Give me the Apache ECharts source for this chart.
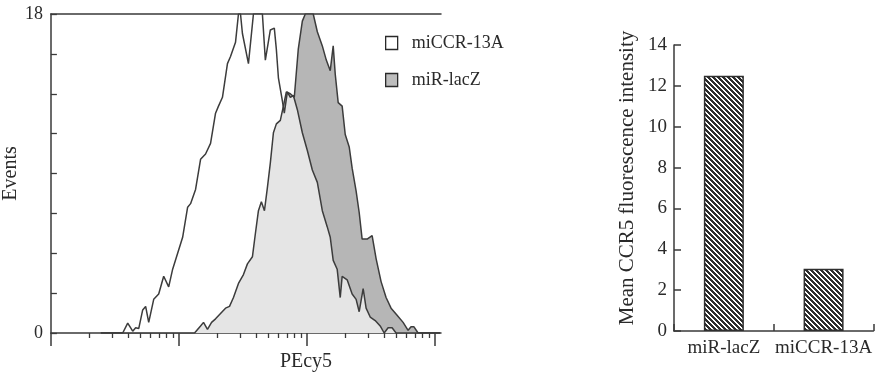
<!DOCTYPE html>
<html>
<head>
<meta charset="utf-8">
<script src="https://cdn.jsdelivr.net/npm/echarts@6/dist/echarts.min.js"></script>
<style>
html,body{margin:0;padding:0;background:#fff;}
#c{width:875px;height:372px;}
</style>
</head>
<body>
<div id="c"></div>
<script>
// ---- Data ----
// Flow histogram: x = log10(PEcy5 intensity), y = events
const miCCR_logPE = [0.39,0.45,0.561,0.600,0.639,0.662,0.686,0.717,0.740,0.764,0.803,0.842,0.881,0.920,0.951,0.990,1.029,1.068,1.091,1.130,1.169,1.208,1.247,1.286,1.309,1.340,1.379,1.403,1.442,1.465,1.481,1.496,1.543,1.582,1.621,1.652,1.675,1.714,1.745,1.761,1.777,1.808,1.823,1.847,1.870,1.894,1.925,1.964,2.003,2.042,2.081,2.120,2.158,2.182,2.205,2.236,2.260,2.275,2.314,2.353,2.384,2.408,2.439,2.462,2.494,2.533,2.572,2.603,2.634,2.665,2.696,3.04];
const miCCR_events = [0,0,0,0.56,0.1,0.3,0.25,1.3,1.5,0.6,1.9,2.2,3.2,2.6,3.6,4.5,5.4,7.1,7.3,8.1,9.8,10.1,10.7,12.4,12.8,13.3,15.2,15.6,16.4,18,18,16.9,15.2,18,18,18,15.4,17.1,17.2,16,14.4,13.1,12.4,13.6,13.3,13.4,12.6,11.3,10.3,9.2,8.5,6.9,6.0,5.4,4.1,3.6,2.0,3.2,3.0,2.2,1.9,1.2,2.5,1.4,0.9,0.7,0.4,0,0.3,0.3,0,0];
const lacZ_logPE = [0.39,0.997,1.091,1.122,1.169,1.192,1.223,1.255,1.286,1.325,1.364,1.395,1.426,1.465,1.504,1.535,1.574,1.597,1.621,1.644,1.668,1.691,1.714,1.738,1.761,1.792,1.816,1.839,1.870,1.901,1.932,1.964,1.987,2.018,2.049,2.081,2.120,2.151,2.182,2.205,2.221,2.244,2.275,2.299,2.330,2.353,2.384,2.408,2.431,2.470,2.509,2.540,2.579,2.618,2.657,2.704,2.751,2.790,2.813,2.836,2.868,3.04];
const lacZ_events = [0,0,0,0,0.4,0.6,0.2,0.6,0.8,1.1,1.4,1.5,2.0,2.8,3.3,3.9,4.3,5.6,6.9,7.4,6.9,8.2,9.6,11.3,11.8,12.0,12.8,13.6,13.5,13.3,16,17.6,18,18,18,17.0,16.2,15.4,14.8,16.2,14.6,13.0,12.8,11.2,10.5,9.3,8.0,6.8,5.3,5.3,5.5,4.2,2.9,2.0,1.4,1.0,0.6,0.15,0.35,0.35,0,0];
const histYTickLabels = [0, 18];
const peMajorTicks = [1, 10, 100, 1000];
const peMinorTicks = [2,3,4,5,6,7,8,9,20,30,40,50,60,70,80,90,200,300,400,500,600,700,800,900];

// Bar chart
const barCategories = ['miR-lacZ', 'miCCR-13A'];
const barValues = [12.5, 3.05];

// ---- Build ----
const FONT = "'Liberation Serif','Times New Roman',serif";
const INK = '#2a2a2a';
const zip = (xs, ys) => xs.map((x, i) => [x, ys[i]]);
const miCCR = zip(miCCR_logPE, miCCR_events);
const lacZ = zip(lacZ_logPE, lacZ_events);
const majorLog = peMajorTicks.map(v => Math.log10(v));
const minorLog = peMinorTicks.map(v => Math.log10(v));

function hatch() {
  const n = 5;
  const cv = document.createElement('canvas');
  cv.width = n; cv.height = n;
  const ctx = cv.getContext('2d');
  const img = ctx.createImageData(n, n);
  for (let y = 0; y < n; y++) for (let x = 0; x < n; x++) {
    const k = (((x - y) % n) + n) % n;
    const dark = k < 3;
    const c = dark ? 45 : 255;
    const i = (y * n + x) * 4;
    img.data[i] = c; img.data[i+1] = c; img.data[i+2] = c; img.data[i+3] = 255;
  }
  ctx.putImageData(img, 0, 0);
  return cv;
}

const XMAX = 3.047;
const axLine = {show: true, onZero: false, lineStyle: {color: '#3a3a3a', width: 1.5}};

const chart = echarts.init(document.getElementById('c'), null, {renderer: 'canvas'});
chart.setOption({
  animation: false,
  backgroundColor: '#fff',
  grid: [
    {left: 50, top: 14, width: 391, height: 319},
    {left: 674, top: 45, width: 200, height: 286}
  ],
  legend: {
    orient: 'vertical', left: 380, top: 29,
    itemWidth: 12, itemHeight: 13, itemGap: 19,
    selectedMode: false,
    textStyle: {fontFamily: FONT, fontSize: 18, color: INK, padding: [0, 0, 0, 9]},
    data: [
      {name: 'miCCR-13A', icon: 'rect', itemStyle: {color: '#fff', borderColor: INK, borderWidth: 1.3}},
      {name: 'miR-lacZ', icon: 'rect', itemStyle: {color: '#bdbdbd', borderColor: INK, borderWidth: 1.3}}
    ]
  },
  xAxis: [
    {gridIndex: 0, type: 'value', min: 0, max: XMAX, position: 'bottom',
     axisLine: axLine,
     axisTick: {show: true, customValues: majorLog, length: 13, lineStyle: {color: '#3a3a3a', width: 1.5}},
     axisLabel: {show: false}, splitLine: {show: false}},
    {gridIndex: 0, type: 'value', min: 0, max: XMAX, position: 'bottom',
     axisLine: {show: false, onZero: false},
     axisTick: {show: true, customValues: minorLog, length: 5, lineStyle: {color: '#3a3a3a', width: 1.3}},
     axisLabel: {show: false}, splitLine: {show: false}},
    {gridIndex: 0, type: 'value', min: 0, max: XMAX, position: 'top',
     axisLine: axLine, axisTick: {show: false},
     axisLabel: {show: false}, splitLine: {show: false}},
    {gridIndex: 1, type: 'category', data: barCategories,
     axisLine: axLine,
     axisTick: {show: true, inside: true, length: 7, lineStyle: {color: '#3a3a3a', width: 1.5}},
     axisLabel: {fontFamily: FONT, fontSize: 19, color: INK, margin: 8, interval: 0, hideOverlap: false}}
  ],
  yAxis: [
    {gridIndex: 0, type: 'value', min: 0, max: 18, interval: 2.25,
     axisLine: axLine,
     axisTick: {show: true, inside: true, length: 6, lineStyle: {color: '#3a3a3a', width: 1.3}},
     axisLabel: {fontFamily: FONT, fontSize: 18, color: INK, margin: 8,
       formatter: v => histYTickLabels.indexOf(v) >= 0 ? String(v) : ''},
     splitLine: {show: false},
     name: 'Events', nameLocation: 'middle', nameGap: 25,
     nameTextStyle: {fontFamily: FONT, fontSize: 20, color: INK}},
    {gridIndex: 1, type: 'value', min: 0, max: 14, interval: 2,
     axisLine: axLine,
     axisTick: {show: true, inside: true, length: 7, lineStyle: {color: '#3a3a3a', width: 1.5}},
     axisLabel: {fontFamily: FONT, fontSize: 19, color: INK, margin: 7},
     splitLine: {show: false}}
  ],
  graphic: [
    {type: 'text', x: 306, y: 362, style: {text: 'PEcy5', font: '20px ' + FONT, fill: INK, textAlign: 'center', textVerticalAlign: 'middle'}},
    {type: 'text', x: 627, y: 178, rotation: Math.PI / 2,
     style: {text: 'Mean CCR5 fluorescence intensity', font: '21px ' + FONT, fill: INK, textAlign: 'center', textVerticalAlign: 'middle'}}
  ],
  series: [
    {name: 'miR-lacZ', type: 'line', xAxisIndex: 0, yAxisIndex: 0, data: lacZ,
     showSymbol: false, symbol: 'none', lineStyle: {width: 0}, itemStyle: {color: '#bdbdbd'},
     areaStyle: {color: '#b6b6b6', opacity: 1}, z: 2},
    {name: 'miCCR-13A', type: 'line', xAxisIndex: 0, yAxisIndex: 0, data: miCCR,
     showSymbol: false, symbol: 'none', lineStyle: {width: 0}, itemStyle: {color: '#fff'},
     areaStyle: {color: '#fff', opacity: 0.64}, z: 3},
    {name: 'miR-lacZ', type: 'line', xAxisIndex: 0, yAxisIndex: 0, data: lacZ,
     showSymbol: false, symbol: 'none', lineStyle: {color: '#3c3c3c', width: 1.5}, z: 4},
    {name: 'miCCR-13A', type: 'line', xAxisIndex: 0, yAxisIndex: 0, data: miCCR,
     showSymbol: false, symbol: 'none', lineStyle: {color: '#3c3c3c', width: 1.5}, z: 4},
    {name: 'MFI', type: 'bar', xAxisIndex: 3, yAxisIndex: 1, data: barValues, barWidth: 40,
     itemStyle: {color: {image: hatch(), repeat: 'repeat'}, borderColor: '#2e2e2e', borderWidth: 1.5}}
  ]
});
</script>
</body>
</html>
